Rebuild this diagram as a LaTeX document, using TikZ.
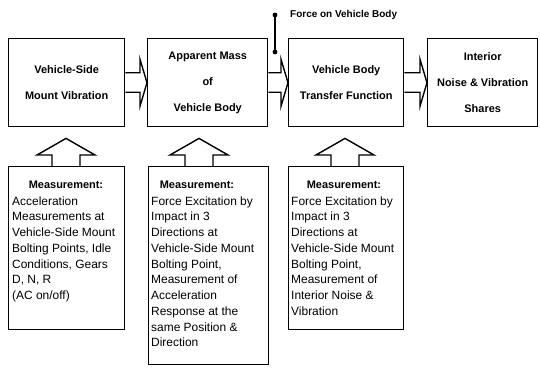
\documentclass[tikz,border=0pt]{standalone}
\usepackage{fontspec}
\setmainfont{Liberation Sans}
\usetikzlibrary{calc}
\newcommand\blkup[3]{% #1 x, #2 lower node, #3 upper node
  \draw[ar] (#1-14,0 |- #2.north) -- (#1-14,155) -- (#1-29,155)
    -- ($(#1,0 |- #3.south)+(0,11)$) -- (#1+29,155) -- (#1+14,155)
    -- (#1+14,0 |- #2.north);}
\newcommand\blkright[2]{% #1 left node, #2 right node
  \draw[ar] ($(#1.east)+(0,-10)$) -- ($(#2.west)+(-7,-10)$)
    -- ($(#2.west)+(-7,-23.5)$) -- (#2.west) -- ($(#2.west)+(-7,23.5)$)
    -- ($(#2.west)+(-7,9.5)$) -- ($(#1.east)+(0,9.5)$);}
\begin{document}
\begin{tikzpicture}[x=1bp,y=-1bp,
  blk/.style={draw, line width=1.4pt, inner sep=0pt, anchor=north west},
  ttl/.style={font=\bfseries\fontsize{11}{26}\selectfont, align=center},
  ar/.style={draw, line width=1.4pt, line join=miter},
  head/.style={font=\bfseries\fontsize{11}{13}\selectfont, inner sep=0pt},
  body/.style={font=\fontsize{12}{15.8}\selectfont, align=left, inner sep=0pt, anchor=north west},
  lbl/.style={font=\bfseries\fontsize{10}{11}\selectfont, inner sep=0pt, anchor=west}]
\useasboundingbox (0,0) rectangle (540,367);
% top row
\node[blk, ttl, minimum width=116bp, minimum height=88bp] (b1) at (8,38) {Vehicle-Side\\Mount Vibration};
\node[blk, ttl, minimum width=120bp, minimum height=88bp] (b2) at (147,38) {Apparent Mass\\of\\Vehicle Body};
\node[blk, ttl, minimum width=115bp, minimum height=88bp] (b3) at (288,38) {Vehicle Body\\Transfer Function};
\node[blk, ttl, minimum width=110bp, minimum height=88bp] (b4) at (427,38) {Interior\\Noise \& Vibration\\Shares};
\blkright{b1}{b2}
\blkright{b2}{b3}
\blkright{b3}{b4}
% force marker
\coordinate (f1) at (275,15);
\coordinate (f2) at (275,52);
\draw[line width=1.4pt] (f1) -- (f2);
\fill (f1) circle (2.4bp);
\fill (f2) circle (2.4bp);
\node[lbl] (fl) at (290,15) {Force on Vehicle Body};
% lower row
\node[blk, minimum width=116bp, minimum height=163bp] (lA) at (8,166) {};
\node[blk, minimum width=120bp, minimum height=198bp] (lB) at (148,166) {};
\node[blk, minimum width=115bp, minimum height=163bp] (lC) at (288,166) {};
\blkup{66}{lA}{b1}
\blkup{199}{lB}{b2}
\blkup{345}{lC}{b3}
\node[head] (hA) at (66,185) {Measurement:};
\node[head] (hB) at (197,185) {Measurement:};
\node[head] (hC) at (344,185) {Measurement:};
\node[body] (tA) at (12,194) {\strut Acceleration\\Measurements at\\Vehicle-Side Mount\\Bolting Points, Idle\\Conditions, Gears\\D, N, R\\(AC on/off)};
\node[body] (tB) at (151,194) {\strut Force Excitation by\\Impact in 3\\Directions at\\Vehicle-Side Mount\\Bolting Point,\\Measurement of\\Acceleration\\Response at the\\same Position \&\\Direction};
\node[body] (tC) at (291,194) {\strut Force Excitation by\\Impact in 3\\Directions at\\Vehicle-Side Mount\\Bolting Point,\\Measurement of\\Interior Noise \&\\Vibration};
\end{tikzpicture}
\end{document}
